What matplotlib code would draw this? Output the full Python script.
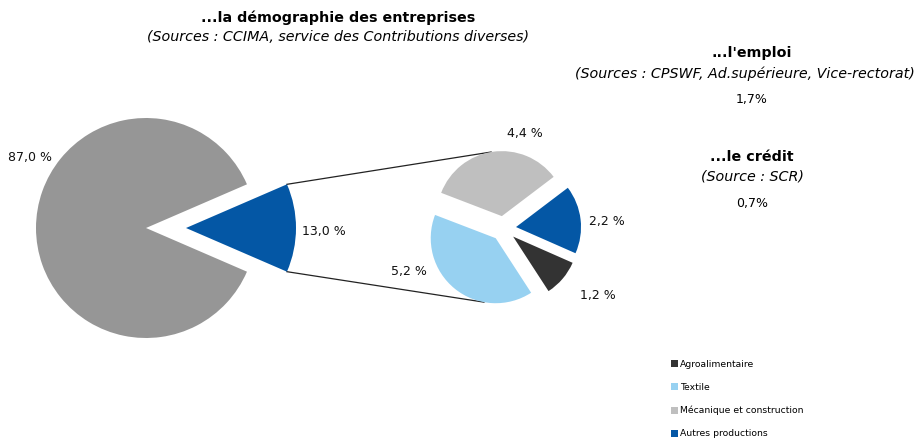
import numpy as np
import matplotlib
matplotlib.use("Agg")
import matplotlib.pyplot as plt
from matplotlib.patches import Patch

plt.rcParams["font.family"] = ["DejaVu Sans"]

# ---------------------------------------------------------------------------
# Data
# ---------------------------------------------------------------------------
MAIN_LABELS = ["Industrie", "Autres secteurs"]
MAIN_VALUES = [13.0, 87.0]
MAIN_TEXT = ["13,0 %", "87,0 %"]

SUB_LABELS = ["Agroalimentaire", "Autres productions", "Mécanique et construction", "Textile"]
SUB_VALUES = [1.2, 2.2, 4.4, 5.2]
SUB_TEXT = ["1,2 %", "2,2 %", "4,4 %", "5,2 %"]

LEGEND_ORDER = ["Agroalimentaire", "Textile", "Mécanique et construction", "Autres productions"]

EMPLOI_VALUE = "1,7%"
CREDIT_VALUE = "0,7%"

COLORS = {
    "Industrie": "#0457a5",
    "Autres secteurs": "#969696",
    "Agroalimentaire": "#333333",
    "Autres productions": "#0457a5",
    "Mécanique et construction": "#bfbfbf",
    "Textile": "#97d1f1",
}

W, H = 921, 438

fig = plt.figure(figsize=(W / 100, H / 100), dpi=100)
ax = fig.add_axes([0, 0, 1, 1])


def Y(y):
    return H - y


# main pie (explode is in data units = pixels here)
main_r = 110
main_c = (146, Y(228))
start = -MAIN_VALUES[0] / 100 * 360 / 2
wm, _ = ax.pie(MAIN_VALUES, colors=[COLORS[l] for l in MAIN_LABELS],
               explode=[40, 0], startangle=start, radius=main_r,
               center=main_c, counterclock=True, frame=True,
               wedgeprops=dict(linewidth=0))

# sub pie
sub_r = 65
sub_c = (503.6, Y(228.5))
sub_start = -57
ws, _ = ax.pie(SUB_VALUES, colors=[COLORS[l] for l in SUB_LABELS],
               explode=[12.5] * len(SUB_VALUES), startangle=sub_start, radius=sub_r,
               center=sub_c, counterclock=True, frame=True,
               wedgeprops=dict(linewidth=0))
ax.set_xlim(0, W)
ax.set_ylim(0, H)
ax.set_aspect("equal")
ax.axis("off")


def arc_point(w, theta):
    cx, cy = w.center
    t = np.deg2rad(theta)
    return cx + w.r * np.cos(t), cy + w.r * np.sin(t)


# connecting lines
blue = wm[0]
top_a = arc_point(blue, blue.theta2)
bot_a = arc_point(blue, blue.theta1)
top_b = arc_point(ws[2], 99.5)
bot_b = arc_point(ws[3], 259.6)
for a, b in [(top_a, top_b), (bot_a, bot_b)]:
    ax.plot([a[0], b[0]], [a[1], b[1]], color="#222222", lw=0.9, zorder=0)

# value labels
lab_fs = 9
main_pos = [(324, 231), (30, 157)]
for txt, (x, y) in zip(MAIN_TEXT, main_pos):
    ax.text(x, Y(y), txt, ha="center", va="center", fontsize=lab_fs, color="#111111")
sub_pos = [(598, 295), (607, 222), (525, 133), (409, 271)]
for txt, (x, y) in zip(SUB_TEXT, sub_pos):
    ax.text(x, Y(y), txt, ha="center", va="center", fontsize=lab_fs, color="#111111")

# titles
ax.text(338, Y(18), "...la démographie des entreprises", ha="center", va="center",
        fontsize=10.3, fontweight="bold")
ax.text(338, Y(37), "(Sources : CCIMA, service des Contributions diverses)",
        ha="center", va="center", fontsize=10.3, style="italic")

ax.text(752, Y(53), "...l'emploi", ha="center", va="center", fontsize=10.3, fontweight="bold")
ax.text(745, Y(74), "(Sources : CPSWF, Ad.supérieure, Vice-rectorat)",
        ha="center", va="center", fontsize=10.3, style="italic")
ax.text(752, Y(99), EMPLOI_VALUE, ha="center", va="center", fontsize=lab_fs)

ax.text(752, Y(157), "...le crédit", ha="center", va="center", fontsize=10.3, fontweight="bold")
ax.text(752, Y(177), "(Source : SCR)", ha="center", va="center", fontsize=10.3, style="italic")
ax.text(752, Y(204), CREDIT_VALUE, ha="center", va="center", fontsize=lab_fs)

# legend
handles = [Patch(facecolor=COLORS[l], edgecolor="none", label=l) for l in LEGEND_ORDER]
ax.legend(handles=handles, loc="upper left", bbox_to_anchor=(671 / W, 1 - 360 / H),
          frameon=False, fontsize=6.7, handlelength=0.75, handleheight=0.75,
          handletextpad=0.25, labelspacing=1.5, borderpad=0, borderaxespad=0)

fig.savefig("out.png", dpi=100)
